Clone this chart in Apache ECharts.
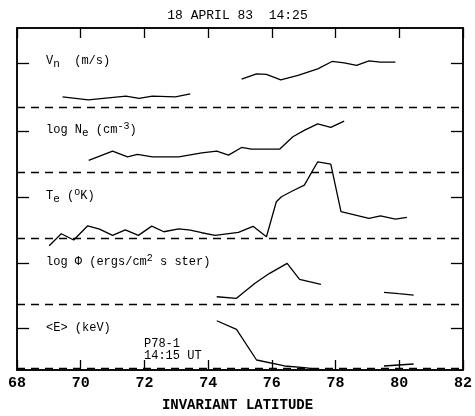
<!DOCTYPE html>
<html><head><meta charset="utf-8">
<script src="https://cdn.jsdelivr.net/npm/echarts@6/dist/echarts.min.js"></script>
<style>html,body{margin:0;background:#fff}#c{width:475px;height:416px}</style>
</head><body><div id="c"></div>
<script>
// latitude, panel-local value
const vnSeg1 = [[69.43,0.154],[70.24,0.108],[71.42,0.164],[71.83,0.129],[72.25,0.164],[72.97,0.154],[73.44,0.199]];
const vnSeg2 = [[75.05,0.422],[75.52,0.503],[75.83,0.494],[76.28,0.412],[76.82,0.479],[77.44,0.579],[77.89,0.691],[78.27,0.670],[78.66,0.631],[79.05,0.701],[79.41,0.681],[79.88,0.681]];
const neSeg = [[70.25,0.187],[71.0,0.328],[71.47,0.242],[71.78,0.278],[72.25,0.242],[73.08,0.242],[73.8,0.302],[74.27,0.328],[74.64,0.267],[75.05,0.384],[75.36,0.359],[76.25,0.359],[76.66,0.546],[77.03,0.647],[77.44,0.743],[77.85,0.688],[78.27,0.784]];
const teSeg = [[69.01,-0.111],[69.39,0.071],[69.78,-0.024],[70.22,0.193],[70.59,0.143],[71.0,0.047],[71.40,0.132],[71.81,0.047],[72.23,0.188],[72.61,0.102],[73.08,0.147],[73.44,0.128],[73.80,0.087],[74.22,0.047],[74.95,0.093],[75.41,0.184],[75.83,0.026],[76.14,0.558],[76.30,0.634],[76.66,0.725],[77.02,0.812],[77.44,1.166],[77.85,1.131],[78.17,0.407],[79.05,0.307],[79.41,0.345],[79.88,0.295],[80.24,0.321]];
const phiSeg1 = [[74.27,0.114],[74.89,0.090],[75.47,0.318],[75.93,0.470],[76.48,0.622],[76.87,0.378],[77.54,0.302]];
const phiSeg2 = [[79.52,0.181],[79.98,0.160],[80.45,0.140]];
const eSeg1 = [[74.27,0.749],[74.89,0.619],[75.52,0.152],[76.40,0.061],[77.02,0.035],[77.60,0.0]];
const eSeg2 = [[79.52,0.061],[79.98,0.076],[80.45,0.091]];
const xTicks = [68,70,72,74,76,78,80,82];
const panelTicks = [0.63,1.63,2.63,3.63,4.67];
const separators = [0.02,1,2,3,4];

const panels = [[vnSeg1,4],[vnSeg2,4],[neSeg,3],[teSeg,2],[phiSeg1,1],[phiSeg2,1],[eSeg1,0],[eSeg2,0]];
const mono = 'Liberation Mono';
const series = panels.map(([d,b]) => ({type:'line',symbol:'none',data:d.map(p=>[p[0],p[1]+b]),lineStyle:{color:'#000',width:1.3},silent:true}));
series[0].markLine = {symbol:'none',silent:true,label:{show:false},lineStyle:{type:[8,6],color:'#000',width:1.3},data:separators.map(v=>({yAxis:v}))};
// invisible series bound to top axis so it renders
series.push({type:'line',xAxisIndex:1,data:[],symbol:'none'});

const xa = (pos,lab) => ({type:'value',min:68,max:82,interval:2,position:pos,
  axisLine:{show:true,onZero:false,lineStyle:{color:'#000',width:1.5}},
  axisTick:{show:true,inside:true,length:10,lineStyle:{color:'#000',width:1.3}},
  splitLine:{show:false},
  axisLabel:{show:lab,color:'#000',fontFamily:mono,fontSize:15,fontWeight:'bold',margin:6}});
const ya = (pos) => ({type:'value',min:0,max:5.2,position:pos,
  axisLine:{show:true,onZero:false,lineStyle:{color:'#000',width:1.5}},
  axisTick:{show:true,inside:true,length:12,customValues:panelTicks,lineStyle:{color:'#000',width:1.3}},
  axisLabel:{show:false},splitLine:{show:false}});

const txt = (x,y,rich,t) => ({type:'text',left:x,top:y,style:{text:t,rich:rich,font:'12px '+mono,fill:'#000'}});
const rich = {s:{fontSize:11,fontFamily:mono,padding:[6,0,0,0]},p:{fontSize:10,fontFamily:mono,padding:[0,0,8,0]},n:{fontSize:12,fontFamily:mono}};

const chart = echarts.init(document.getElementById('c'));
chart.setOption({
  animation:false,
  title:{text:'18 APRIL 83  14:25',left:'center',top:4,textStyle:{fontFamily:mono,fontSize:13,fontWeight:'normal',color:'#000'}},
  grid:{left:17,right:9,top:28,bottom:46,show:true,borderColor:'#000',borderWidth:1.5,backgroundColor:'transparent'},
  xAxis:[xa('bottom',true),xa('top',false)],
  yAxis:[ya('left'),ya('right')],
  series:series,
  graphic:[
    txt(46,55,rich,'{n|V}{s|n}{n|  (m/s)}'),
    txt(46,121,rich,'{n|log N}{s|e}{n| (cm}{p|-3}{n|)}'),
    txt(46,187,rich,'{n|T}{s|e}{n| (}{p|o}{n|K)}'),
    txt(46,253,rich,'{n|log \u03a6 (ergs/cm}{p|2}{n| s ster)}'),
    txt(46,322,rich,'{n|<E> (keV)}'),
    txt(144,338,null,'P78-1\n14:15 UT'),
    {type:'text',left:'center',top:398,style:{text:'INVARIANT LATITUDE',font:'bold 14px '+mono,fill:'#000'}}
  ]
});
</script></body></html>
